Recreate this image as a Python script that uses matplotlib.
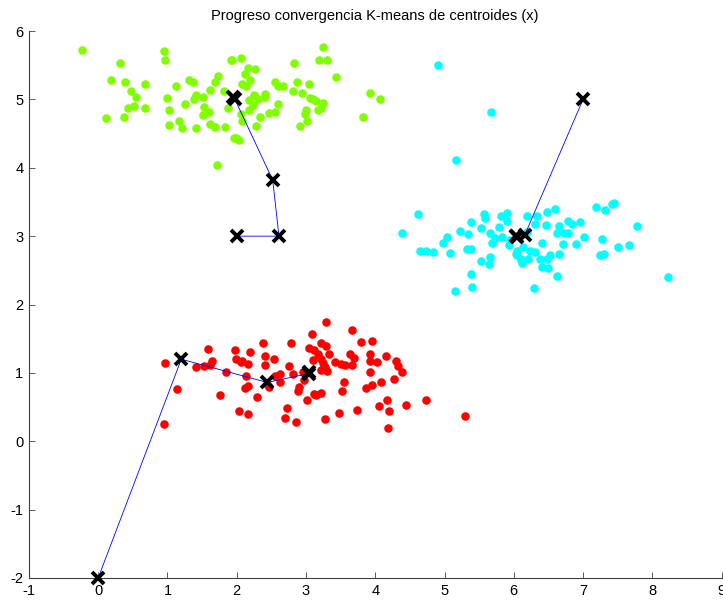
import matplotlib
matplotlib.use("Agg")
import matplotlib.pyplot as plt
import numpy as np

plt.rcParams['font.family'] = ['Liberation Sans', 'DejaVu Sans']
plt.rcParams['axes.unicode_minus'] = False

# puntos del cluster verde
green_x = [-0.23, 0.32, 0.95, 0.96, 1.92, 0.18, 0.38, 0.67, 0.48, 0.55, 0.51, 0.43, 0.67, 0.11, 0.37,
           1.13, 1.31, 1.37, 1.00, 1.02, 1.26, 1.41, 1.39, 1.52, 1.61, 1.69, 1.73, 1.53, 1.60, 1.52,
           1.02, 1.16, 1.21, 1.41, 1.61, 1.69, 1.83, 1.82, 1.87, 1.96, 1.71,
           1.93, 2.06, 2.16, 2.26, 2.12, 2.19, 2.07, 2.14, 2.41, 2.41, 2.25, 2.31, 2.18, 2.23, 2.18,
           2.06, 2.07, 2.33, 2.28, 1.99, 2.04, 2.60, 2.47, 2.56, 2.82, 2.56, 2.59, 2.67, 2.87, 3.05,
           2.81, 2.94, 3.06, 3.14, 3.24, 3.17, 3.22, 3.00, 2.98, 3.02, 2.91, 3.24, 3.19, 3.31, 3.44,
           3.92, 4.07, 3.83, 3.10]
green_y = [5.73, 5.54, 5.71, 5.57, 5.57, 5.29, 5.25, 5.23, 5.13, 5.03, 4.91, 4.88, 4.87, 4.73, 4.74,
           5.20, 5.29, 5.25, 5.02, 4.85, 4.93, 5.06, 5.00, 5.04, 5.14, 5.25, 5.34, 4.89, 4.82, 4.77,
           4.63, 4.68, 4.58, 4.58, 4.64, 4.59, 4.59, 5.13, 4.87, 4.43, 4.04,
           5.57, 5.61, 5.46, 5.44, 5.37, 5.29, 5.22, 5.20, 5.08, 5.03, 5.06, 5.00, 4.99, 4.92, 4.85,
           4.78, 4.68, 4.75, 4.61, 4.44, 4.40, 4.93, 4.80, 4.81, 5.53, 5.26, 5.20, 5.19, 5.26, 5.23,
           5.12, 5.10, 5.02, 4.98, 4.95, 4.84, 4.87, 4.84, 4.78, 4.68, 4.61, 5.77, 5.58, 5.58, 5.33,
           5.10, 5.00, 4.74, 5.00]

# puntos del cluster cian
cyan_x = [4.91, 5.67, 5.16, 4.62, 4.39, 4.64, 4.74, 4.84, 5.08, 4.98, 5.04, 5.22, 5.34, 5.38, 5.52,
          5.57, 5.59, 5.81, 5.90, 5.90, 5.78, 5.66, 5.73, 5.69, 5.83, 5.93, 5.33, 5.38, 5.66, 5.52,
          5.64, 5.38, 5.40, 5.15, 6.19, 6.33, 6.48, 6.60, 6.31, 6.47, 6.19, 6.41, 6.05, 6.14, 6.24,
          6.31, 6.10, 6.21, 6.05, 6.12, 6.38, 6.41, 6.50, 6.29, 6.48, 6.62, 6.62, 6.65, 6.71, 6.90,
          7.01, 6.95, 6.79, 6.84, 6.65, 6.72, 6.79, 7.19, 7.32, 7.42, 7.44, 7.27, 7.24, 7.31, 7.51,
          7.67, 7.78, 8.22, 5.95, 6.03, 6.10, 6.53]
cyan_y = [5.50, 4.81, 4.12, 3.32, 3.05, 2.79, 2.78, 2.77, 2.75, 2.90, 2.99, 3.07, 3.03, 3.20, 3.12,
          3.33, 3.26, 3.29, 3.34, 3.22, 3.13, 3.04, 2.97, 2.90, 2.99, 2.87, 2.81, 2.81, 2.69, 2.63,
          2.59, 2.44, 2.26, 2.20, 3.29, 3.30, 3.36, 3.39, 3.18, 3.17, 3.06, 2.90, 2.79, 2.84, 2.79,
          2.77, 2.67, 2.67, 2.72, 2.60, 2.67, 2.55, 2.54, 2.24, 2.67, 3.04, 2.41, 2.74, 2.88, 2.88,
          2.99, 3.20, 3.22, 3.18, 3.15, 3.05, 3.05, 3.42, 3.38, 3.47, 3.48, 2.96, 2.72, 2.74, 2.84,
          2.87, 3.15, 2.40, 2.94, 2.74, 2.65, 2.72]

# puntos del cluster rojo
red_x = [0.97, 1.14, 0.95, 1.41, 1.53, 1.58, 1.65, 1.62, 1.85, 1.76, 1.97, 1.99, 2.19, 2.08, 2.16,
         2.13, 2.12, 2.17, 2.29, 2.03, 2.17, 2.38, 2.41, 2.54, 2.41, 2.44, 2.47, 2.56, 2.63, 2.63,
         2.78, 2.76, 2.81, 2.90, 2.88, 3.02, 2.73, 2.70, 2.85, 3.08, 3.05, 3.10, 2.95, 2.97, 3.12,
         3.29, 3.66, 3.80, 3.95, 3.21, 3.29, 3.12, 3.17, 3.33, 3.25, 3.42, 3.50, 3.57, 3.66, 3.63,
         3.69, 3.92, 3.92, 4.03, 4.15, 4.30, 4.33, 4.38, 3.93, 3.31, 3.21, 3.55, 3.52, 3.86, 3.96,
         4.09, 4.27, 3.14, 3.22, 4.17, 4.06, 4.20, 4.45, 4.74, 3.73, 3.47, 3.28, 4.18, 5.30, 3.22,
         3.27, 2.06]
red_y = [1.15, 0.76, 0.25, 1.09, 1.10, 1.35, 1.17, 1.11, 1.01, 0.68, 1.33, 1.21, 1.31, 1.18, 1.13,
         0.95, 0.78, 0.81, 0.65, 0.44, 0.40, 1.43, 1.25, 1.21, 1.11, 0.84, 0.79, 0.96, 0.99, 0.87,
         1.43, 1.10, 0.99, 0.79, 0.73, 0.61, 0.48, 0.34, 0.28, 1.57, 1.36, 1.19, 1.01, 0.89, 0.69,
         1.75, 1.63, 1.45, 1.46, 1.43, 1.39, 1.33, 1.28, 1.28, 1.14, 1.16, 1.13, 1.11, 1.12, 1.28,
         1.22, 1.28, 1.17, 1.16, 1.25, 1.18, 1.10, 1.02, 1.01, 1.03, 1.04, 0.87, 0.74, 0.78, 0.82,
         0.86, 0.91, 0.67, 0.71, 0.61, 0.52, 0.44, 0.53, 0.61, 0.45, 0.42, 0.32, 0.20, 0.37, 1.21,
         1.09, 1.16]

# historial de centroides por iteración
hist_green_x = [2.0, 2.61, 2.52, 1.97, 1.95]
hist_green_y = [3.0, 3.0, 3.82, 5.01, 5.03]
hist_red_x = [0.0, 1.20, 2.44, 3.04, 3.04]
hist_red_y = [-2.0, 1.20, 0.86, 0.99, 1.02]
hist_cyan_x = [7.0, 6.16, 6.05, 6.03, 6.03]
hist_cyan_y = [5.0, 3.02, 2.99, 3.0, 3.0]

fig = plt.figure(figsize=(7.23, 6.03), dpi=100)
ax = fig.add_axes([0.040, 0.0415, 0.958, 0.907])

ax.scatter(green_x, green_y, s=38, c='#80ff00', linewidths=0, zorder=2)
ax.scatter(cyan_x, cyan_y, s=38, c='#00ffff', linewidths=0, zorder=2)
ax.scatter(red_x, red_y, s=38, c='#ff0000', linewidths=0, zorder=2)

for hx, hy in [(hist_green_x, hist_green_y), (hist_red_x, hist_red_y), (hist_cyan_x, hist_cyan_y)]:
    ax.plot(hx, hy, '-', color='#0000ff', lw=0.6, zorder=3)
    ax.plot(hx, hy, 'x', color='black', ms=9, mew=2.8, zorder=4, clip_on=False)

ax.set_xlim(-1, 9)
ax.set_ylim(-2, 6)
ax.set_xticks(range(-1, 10))
ax.set_yticks(range(-2, 7))
ax.spines['top'].set_visible(False)
ax.spines['right'].set_visible(False)
for sp in ['left', 'bottom']:
    ax.spines[sp].set_color('#404040')
    ax.spines[sp].set_linewidth(0.8)
ax.tick_params(direction='in', length=4, width=0.6, color='#404040', labelsize=10.5, pad=4)
ax.set_title('Progreso convergencia K-means de centroides (x)', fontsize=10.5, pad=8)

fig.savefig('out.png', dpi=100)
